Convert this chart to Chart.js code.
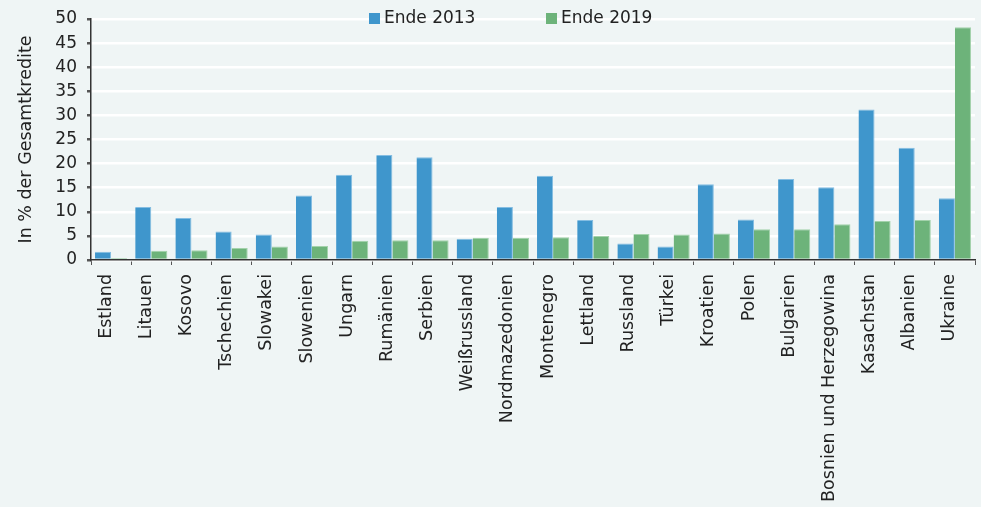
<!DOCTYPE html>
<html><head><meta charset="utf-8">
<script src="https://cdn.jsdelivr.net/npm/chart.js@4"></script>
<style>html,body{margin:0;padding:0;background:#eff5f5;}#wrap{width:981px;height:507px;}</style>
</head><body><div id="wrap"><canvas id="c" width="981" height="507"></canvas></div>
<script>
const categories = ["Estland","Litauen","Kosovo","Tschechien","Slowakei","Slowenien","Ungarn","Rumänien","Serbien","Weißrussland","Nordmazedonien","Montenegro","Lettland","Russland","Türkei","Kroatien","Polen","Bulgarien","Bosnien und Herzegowina","Kasachstan","Albanien","Ukraine"];
const ende2013 = [1.7,11.0,8.7,5.9,5.3,13.4,17.7,21.8,21.3,4.4,11.0,17.5,8.3,3.4,2.8,15.7,8.4,16.8,15.1,31.2,23.3,12.8];
const ende2019 = [0.4,1.9,2.0,2.5,2.8,2.9,4.0,4.1,4.1,4.6,4.6,4.7,5.0,5.4,5.3,5.5,6.4,6.4,7.4,8.1,8.3,48.3];
const seriesNames = ["Ende 2013","Ende 2019"];
const yTicks = [0,5,10,15,20,25,30,35,40,45,50];
const yTitle = "In % der Gesamtkredite";

const FONT = "'DejaVu Sans', sans-serif";
const BLUE = "#3f96cc", GREEN = "#6db37a";

const bgPlugin = {
  id: 'bg',
  beforeDraw(chart){ const c=chart.ctx; c.save(); c.fillStyle='#eff5f5'; c.fillRect(0,0,chart.width,chart.height); c.restore(); }
};
const legendPlugin = {
  id: 'customLegend',
  afterDraw(chart){
    const c = chart.ctx; c.save();
    c.font = "17px " + FONT; c.textBaseline = 'middle';
    const items = [{x:369, color:BLUE, text:seriesNames[0]},{x:546, color:GREEN, text:seriesNames[1]}];
    items.forEach(it=>{
      c.fillStyle = it.color; c.fillRect(it.x, 13, 11, 11);
      c.fillStyle = '#222'; c.fillText(it.text, it.x+15, 19);
    });
    c.restore();
  }
};

new Chart(document.getElementById('c'), {
  type: 'bar',
  data: {
    labels: categories,
    datasets: [
      {label: seriesNames[0], data: ende2013, backgroundColor: BLUE, borderColor: '#84bde2', borderWidth: {top:1,left:0,right:1,bottom:0}, barPercentage: 1.0, categoryPercentage: 0.8},
      {label: seriesNames[1], data: ende2019, backgroundColor: GREEN, borderColor: '#a3d2ab', borderWidth: {top:1,left:0,right:1,bottom:0}, barPercentage: 1.0, categoryPercentage: 0.8}
    ]
  },
  options: {
    responsive: false,
    animation: false,
    devicePixelRatio: 1,
    layout: {padding: {top: 19, right: 6, left: 16, bottom: 0}},
    plugins: {legend: {display: false}, tooltip: {enabled: false}},
    scales: {
      x: {
        grid: {display: true, drawOnChartArea: false, drawTicks: true, tickLength: 5, tickColor: '#555', offset: true},
        border: {display: true, color: '#333', width: 1.5},
        ticks: {minRotation: 90, maxRotation: 90, autoSkip: false, color: '#222', font: {family: FONT, size: 17.5}, padding: 9, labelOffset: -5},
        afterFit(s){ s.height = 507 - 260; s.paddingLeft = 0; s.paddingRight = 0; }
      },
      y: {
        min: 0, max: 50,
        afterBuildTicks(s){ s.ticks = yTicks.map(v=>({value:v})); },
        grid: {color: '#ffffff', lineWidth: 2.5, drawTicks: true, tickLength: 4, tickColor: '#555'},
        border: {display: true, color: '#333', width: 1.5},
        ticks: {color: '#222', font: {family: FONT, size: 17}, padding: 10},
        title: {display: true, text: yTitle, color: '#222', font: {family: FONT, size: 17.5}, padding: {top: 0, bottom: 8}},
        afterFit(s){ s.width = 75; s.paddingTop = 0; s.paddingBottom = 0; }
      }
    }
  },
  plugins: [bgPlugin, legendPlugin]
});
</script>
</body></html>
